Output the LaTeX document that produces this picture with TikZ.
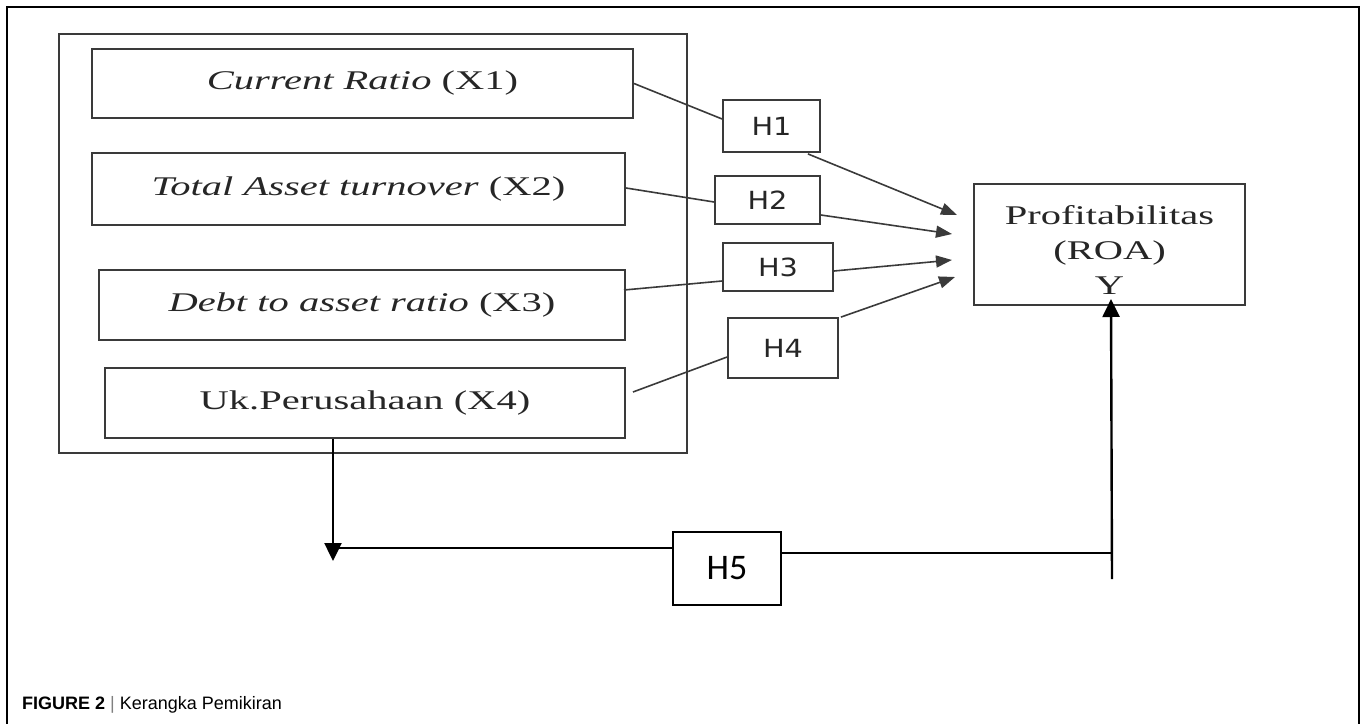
\documentclass[tikz,border=0pt]{standalone}
\usepackage{fontspec}
\usepackage{graphicx}
\setmainfont{Liberation Serif}
\newfontfamily\hfont{DejaVu Sans}
\newfontfamily\hfivefont{Carlito}
\newfontfamily\capfont{Liberation Sans}
\usetikzlibrary{arrows.meta,calc}
\definecolor{boxgray}{HTML}{3A3A3A}
\definecolor{txtgray}{HTML}{262626}
\newcommand{\xwide}[1]{\scalebox{1.5}[1]{#1}}
\newcommand{\hwide}[1]{\scalebox{1.15}[1]{#1}}
\begin{document}
\begin{tikzpicture}[x=1pt,y=-1pt,
  xbox/.style={draw=boxgray, line width=2pt, inner sep=0pt, text=txtgray,
    font=\fontsize{27}{32}\selectfont},
  hbox/.style={draw=boxgray, line width=1.8pt, inner sep=0pt, text=txtgray,
    font=\hfont\fontsize{25}{30}\selectfont},
  link/.style={draw=boxgray, line width=1.6pt},
  arr/.style={link, -{Triangle[length=16pt,width=12pt]}},
  hline/.style={draw=black, line width=2.4pt},
  harr/.style={hline, -{Triangle[length=18pt,width=17pt]}}
]
\useasboundingbox (0,0) rectangle (1365,723);
% outer frame (open at bottom)
\draw[line width=1.5pt] (7,730) -- (7,7) -- (1359,7) -- (1359,730);

% group box
\node[xbox, minimum width=628pt, minimum height=419pt] (grp) at (373,243.5) {};

% variable boxes
\node[xbox, minimum width=541pt, minimum height=69pt] (x1) at (362.5,83.5)
  {\xwide{\textit{Current Ratio} (X1)}};
\node[xbox, minimum width=533pt, minimum height=72pt] (x2) at (358.5,189)
  {\xwide{\textit{Total Asset turnover} (X2)}};
\node[xbox, minimum width=526pt, minimum height=70pt] (x3) at (362,305)
  {\xwide{\textit{Debt to asset ratio} (X3)}};
\node[xbox, minimum width=520pt, minimum height=70pt] (x4) at (365,403)
  {\xwide{Uk.Perusahaan (X4)}};

% hypothesis boxes
\node[hbox, minimum width=97pt, minimum height=52pt] (h1) at (771.5,126) {\hwide{H1}};
\node[hbox, minimum width=105pt, minimum height=48pt] (h2) at (767.5,200) {\hwide{H2}};
\node[hbox, minimum width=110pt, minimum height=48pt] (h3) at (778,267) {\hwide{H3}};
\node[hbox, minimum width=110pt, minimum height=60pt] (h4) at (783,348) {\hwide{H4}};

% dependent variable
\node[xbox, minimum width=271pt, minimum height=121pt] (roa) at (1109.5,244.5) {};
\node[text=txtgray, font=\fontsize{27}{35}\selectfont, align=center, inner sep=0pt]
  (roalbl) at ($(roa.center)+(0,5)$) {\xwide{Profitabilitas}\\\xwide{(ROA)}\\\xwide{Y}};

% H5 box
\node[draw=black, line width=2.2pt, inner sep=0pt, minimum width=108pt, minimum height=73pt,
  font=\hfivefont\fontsize{36}{40}\selectfont] (h5) at (727,568.5) {H5};

% links X -> H
\draw[link] (x1.east) -- ($(h1.west)+(0,-7)$);
\draw[link] ($(x2.east)+(0,-1)$) -- ($(h2.west)+(0,2)$);
\draw[link] ($(x3.east)+(-2,-15)$) -- ($(h3.west)+(0,14)$);
\draw[link] ($(x4.east)+(7,-11)$) -- ($(h4.west)+(0,9)$);

% arrows H -> ROA
\draw[arr] ($(h1.south east)+(-13,1)$) -- ($(roa.west)+(-16,-29.5)$);
\draw[arr] ($(h2.east)+(0,15)$) -- ($(roa.west)+(-21,-10.5)$);
\draw[arr] ($(h3.east)+(0,4)$) -- ($(roa.west)+(-21,15.5)$);
\draw[arr] ($(h4.north east)+(2,0)$) -- ($(roa.west)+(-18,32.5)$);

% H5 paths
\coordinate (dtip) at (333,561);
\coordinate (vj) at (1112,553);
\coordinate (vb) at (1112,579);
\draw[harr] ($(x4.south)+(-32,0)$) -- (dtip);
\draw[hline] ($(h5.west)+(0,-20.5)$) -- ($(h5.west)+(-338,-20.5)$);
\draw[hline] ($(h5.east)+(0,-15.5)$) -- (vj);
\draw[harr] (vb) -- ($(roa.south)+(1.5,-7)$);

% caption
\node[anchor=west, inner sep=0pt, text=black, font=\capfont\fontsize{18}{22}\selectfont]
  (cap) at (22,705) {\textbf{FIGURE 2} {\color{gray}|} Kerangka Pemikiran};
\end{tikzpicture}
\end{document}
